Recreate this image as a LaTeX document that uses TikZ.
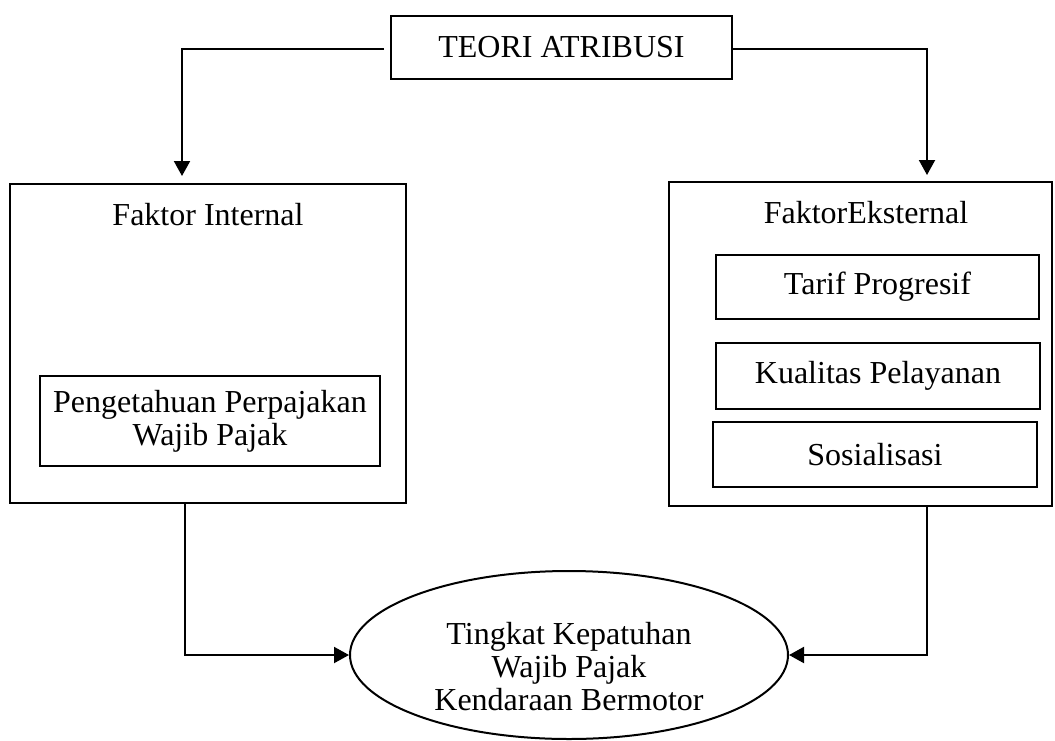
\documentclass[tikz,border=0pt]{standalone}
\usepackage{fontspec}
\setmainfont{Liberation Serif}
\usetikzlibrary{shapes.geometric,arrows.meta}
\begin{document}
\begin{tikzpicture}[x=0.5pt,y=-0.5pt,
  box/.style={draw,line width=1pt,inner sep=0pt,rectangle},
  txt/.style={font=\fontsize{16}{16.5}\selectfont,align=center},
  conn/.style={line width=1pt},
  arr/.style={line width=1pt,-{Triangle[length=7.5pt,width=8pt]}},
]
\useasboundingbox (0,0) rectangle (1055,740);
\node[box,txt,minimum width=170.5pt,minimum height=31.5pt] (teori) at (561.5,47.5) {TEORI ATRIBUSI};
\node[box,minimum width=198pt,minimum height=159.5pt] (fint) at (208,343.5) {};
\node[txt] (fintl) at (208,215) {Faktor Internal};
\node[box,txt,minimum width=170pt,minimum height=45pt] (peng) at (210,421) {Pengetahuan Perpajakan\\Wajib Pajak};
\node[box,minimum width=191.5pt,minimum height=162pt] (fext) at (860.5,344) {};
\node[txt] (fextl) at (866,213) {FaktorEksternal};
\node[box,txt,minimum width=161.5pt,minimum height=32pt] (tarif) at (877.5,287) {Tarif Progresif};
\node[box,txt,minimum width=162pt,minimum height=33pt] (kual) at (878,376) {Kualitas Pelayanan};
\node[box,txt,minimum width=162pt,minimum height=32.5pt] (sos) at (875,454.5) {Sosialisasi};
\node[draw,ellipse,line width=1pt,minimum width=219pt,minimum height=84pt,inner sep=0pt] (tk) at (569,655) {};
\node[font=\fontsize{16}{16.5}\selectfont,align=center] (tkl) at (569,667) {Tingkat Kepatuhan\\Wajib Pajak\\Kendaraan Bermotor};
\coordinate (l1) at (182,49);
\coordinate (r1) at (927,49);
\coordinate (l2) at (185,655);
\coordinate (r2) at (927,655);
\draw[arr,shorten <=3pt,shorten >=3.5pt] (teori.west |- l1) -- (l1) -- (l1 |- fint.north);
\draw[arr,shorten >=3pt] (teori.east |- r1) -- (r1) -- (r1 |- fext.north);
\draw[arr] (fint.south -| l2) -- (l2) -- (tk.west);
\draw[arr] (fext.south -| r2) -- (r2) -- (tk.east);
\end{tikzpicture}
\end{document}
